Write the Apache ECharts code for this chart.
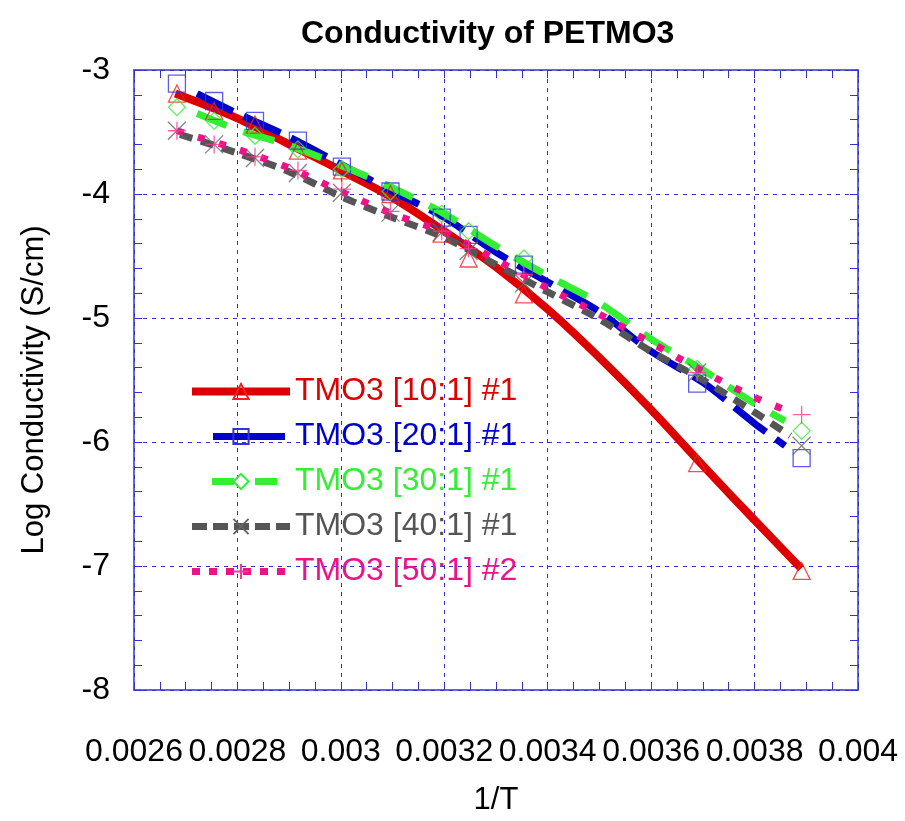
<!DOCTYPE html>
<html>
<head>
<meta charset="utf-8">
<script src="https://cdn.jsdelivr.net/npm/echarts@6/dist/echarts.min.js"></script>
<style>
html,body{margin:0;padding:0;background:#fff;}
#chart{width:905px;height:821px;}
</style>
</head>
<body>
<div id="chart"></div>
<script>
// ---- data ----
const seriesNames = ['TMO3 [10:1] #1', 'TMO3 [20:1] #1', 'TMO3 [30:1] #1', 'TMO3 [40:1] #1', 'TMO3 [50:1] #2'];

// measured points (markers), x = 1/T
const pointX = [0.002683, 0.002755, 0.002834, 0.002917, 0.003002, 0.003096, 0.003195, 0.003247, 0.003354, 0.003689, 0.003891];
const pts10 = [-3.19, -3.33, -3.44, -3.65, -3.81, -4.00, -4.32, -4.52, -4.81, -6.17, -7.04];
const pts20 = [-3.11, -3.25, -3.41, -3.57, -3.78, -3.98, -4.19, -4.33, -4.57, -5.53, -6.13];
const pts30 = [-3.30, -3.41, -3.53, -3.64, -3.80, -3.98, -4.16, -4.30, -4.52, -5.41, -5.91];
const pts40 = [-3.49, -3.60, -3.71, -3.83, -3.99, -4.15, -4.31, -4.46, -4.72, -5.44, -6.03];
const pts50 = [-3.49, -3.60, -3.70, -3.81, -3.96, -4.14, -4.30, -4.44, -4.65, -5.44, -5.78];

// fitted curves
const fit10X = [0.00268, 0.0028, 0.0029, 0.0030, 0.0031, 0.0032, 0.0033, 0.0034, 0.0035, 0.0036, 0.0037, 0.0038, 0.00389];
const fit10Y = [-3.19, -3.39, -3.60, -3.81, -4.03, -4.30, -4.59, -4.93, -5.32, -5.74, -6.19, -6.63, -7.02];
const fit20X = [0.002722, 0.0028, 0.0029, 0.0030, 0.0031, 0.0032, 0.0033, 0.0034, 0.0035, 0.0036, 0.0037, 0.0038, 0.003859];
const fit20Y = [-3.19, -3.35, -3.54, -3.76, -3.98, -4.19, -4.47, -4.71, -4.95, -5.27, -5.52, -5.85, -6.03];
const fit30X = [0.002722, 0.0028, 0.0029, 0.0030, 0.0031, 0.0032, 0.0033, 0.0034, 0.0035, 0.0036, 0.0037, 0.0038, 0.003859];
const fit30Y = [-3.35, -3.48, -3.61, -3.77, -3.95, -4.16, -4.42, -4.66, -4.88, -5.17, -5.42, -5.69, -5.83];
const fit40X = [0.002689, 0.0028, 0.0029, 0.0030, 0.0031, 0.0032, 0.0033, 0.0034, 0.0035, 0.0036, 0.0037, 0.0038, 0.003869];
const fit40Y = [-3.52, -3.67, -3.82, -4.02, -4.19, -4.35, -4.57, -4.79, -5.01, -5.27, -5.50, -5.76, -5.95];
const fit50X = [0.002683, 0.0028, 0.0029, 0.0030, 0.0031, 0.0032, 0.0033, 0.0034, 0.0035, 0.0036, 0.0037, 0.0038, 0.003859];
const fit50Y = [-3.49, -3.64, -3.79, -3.98, -4.16, -4.31, -4.53, -4.76, -4.97, -5.20, -5.43, -5.64, -5.74];

const xTicks = [0.0026, 0.0028, 0.003, 0.0032, 0.0034, 0.0036, 0.0038, 0.004];
const yTicks = [-8, -7, -6, -5, -4, -3];

// ---- styling ----
const lineColors = ['#dd0000', '#0000cc', '#33ee33', '#555555', '#ee1188'];
const markColors = ['#ee2222', '#3333dd', '#33ee33', '#666666', '#ff3399'];
const symbols = ['triangle', 'rect', 'diamond', 'path://M0,0L10,10M10,0L0,10', 'path://M5,0L5,10M0,5L10,5'];
const dashes = ['solid', [40, 12], [32, 18], [13, 9], [7, 15]];
const legendDashes = ['solid', [72, 26], [22, 21], [15, 6], [8, 9]];
const legendDashOffsets = [0, 77, 23, 0, 0];
const widths = [8, 7, 7, 7, 7];
const fitsX = [fit10X, fit20X, fit30X, fit40X, fit50X];
const fitsY = [fit10Y, fit20Y, fit30Y, fit40Y, fit50Y];
const ptsY = [pts10, pts20, pts30, pts40, pts50];

const axisBlue = '#3333cc';
const FONT = 'Liberation Sans, Arial, sans-serif';

const pair = (xs, ys) => xs.map((x, i) => [x, ys[i]]);

const series = [];
seriesNames.forEach((name, i) => {
  series.push({
    name: name,
    type: 'line',
    xAxisIndex: 0, yAxisIndex: 0,
    data: pair(fitsX[i], fitsY[i]),
    smooth: 0.3,
    showSymbol: false,
    symbol: symbols[i],
    symbolSize: 15,
    lineStyle: { color: lineColors[i], width: widths[i], type: dashes[i], cap: 'butt' },
    itemStyle: { color: 'rgba(0,0,0,0)', borderColor: markColors[i], borderWidth: 1.2 },
    z: 2,
    silent: true
  });
});
seriesNames.forEach((name, i) => {
  series.push({
    name: name,
    type: 'scatter',
    xAxisIndex: 0, yAxisIndex: 0,
    data: pair(pointX, ptsY[i]),
    symbol: symbols[i],
    symbolSize: i === 0 ? 17 : (i >= 3 ? 18 : 17),
    itemStyle: { color: 'rgba(0,0,0,0)', borderColor: markColors[i], borderWidth: 1.3 },
    z: 5,
    silent: true
  });
});

const tickStyle = { show: true, inside: true, length: 8, lineStyle: { color: axisBlue, width: 1 } };
const minorStyle = (n) => ({ show: true, splitNumber: n, length: 8, lineStyle: { color: axisBlue, width: 1 } });

const chart = echarts.init(document.getElementById('chart'), null, { renderer: 'canvas' });
chart.setOption({
  animation: false,
  backgroundColor: '#ffffff',
  title: {
    text: 'Conductivity of PETMO3',
    left: 296, top: 13,
    textStyle: { fontFamily: FONT, fontWeight: 'bold', fontSize: 32, color: '#000' }
  },
  legend: {
    orient: 'vertical',
    left: 188, top: 375,
    padding: 0,
    itemWidth: 98, itemHeight: 19,
    itemGap: 12,
    selectedMode: false,
    textStyle: { fontFamily: FONT, fontSize: 32, lineHeight: 33 },
    data: seriesNames.map((n, i) => ({
      name: n,
      textStyle: { color: lineColors[i] },
      lineStyle: { color: lineColors[i], width: widths[i], type: legendDashes[i],
                   dashOffset: legendDashOffsets[i], cap: 'butt' }
    }))
  },
  grid: { left: 134, right: 47, top: 70, bottom: 131, containLabel: false },
  xAxis: [{
    type: 'value', position: 'bottom',
    min: 0.0026, max: 0.004, interval: 0.0002,
    name: '1/T', nameLocation: 'middle', nameGap: 95,
    nameTextStyle: { fontFamily: FONT, fontSize: 31, color: '#000' },
    axisLine: { show: true, lineStyle: { color: axisBlue, width: 1.5 } },
    axisTick: tickStyle,
    minorTick: minorStyle(4),
    axisLabel: { margin: 46, fontFamily: FONT, fontSize: 32, color: '#000',
      formatter: v => String(+v.toFixed(4)) },
    splitLine: { show: true, lineStyle: { color: axisBlue, width: 1, type: [4, 5] } },
    minorSplitLine: { show: false }
  }, {
    type: 'value', position: 'top',
    min: 0.0026, max: 0.004, interval: 0.0002,
    axisLine: { show: true, lineStyle: { color: axisBlue, width: 1.5 } },
    axisTick: tickStyle,
    minorTick: minorStyle(4),
    axisLabel: { show: false },
    splitLine: { show: false }
  }],
  yAxis: [{
    type: 'value', position: 'left',
    min: -8, max: -3, interval: 1,
    name: 'Log Conductivity (S/cm)', nameLocation: 'middle', nameGap: 84, nameRotate: 90,
    nameTextStyle: { fontFamily: FONT, fontSize: 31, color: '#000', padding: [0, 20, 0, 0] },
    axisLine: { show: true, lineStyle: { color: axisBlue, width: 1.5 } },
    axisTick: tickStyle,
    minorTick: minorStyle(5),
    axisLabel: { margin: 24, fontFamily: FONT, fontSize: 32, color: '#000', padding: [12, 0, 0, 0] },
    splitLine: { show: true, lineStyle: { color: axisBlue, width: 1, type: [4, 5] } }
  }, {
    type: 'value', position: 'right',
    min: -8, max: -3, interval: 1,
    axisLine: { show: true, lineStyle: { color: axisBlue, width: 1.5 } },
    axisTick: tickStyle,
    minorTick: minorStyle(5),
    axisLabel: { show: false },
    splitLine: { show: false }
  }],
  series: series
});
</script>
</body>
</html>
